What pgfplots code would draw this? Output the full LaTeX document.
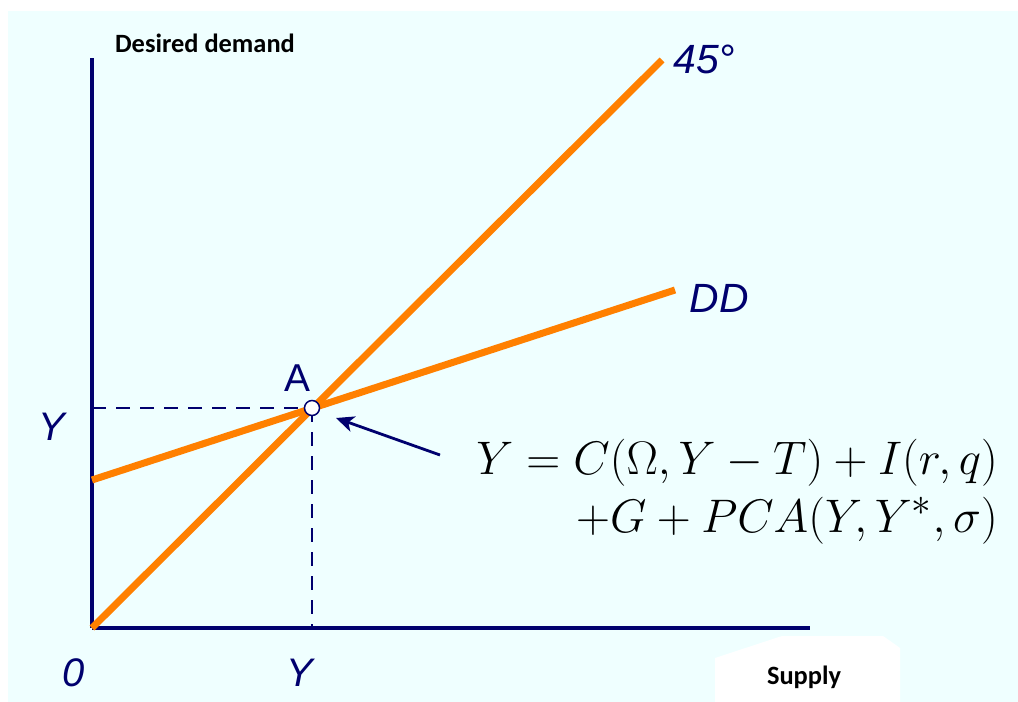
\documentclass[border=0pt]{standalone}
\usepackage{pgfplots}
\pgfplotsset{compat=1.18}
\usetikzlibrary{arrows.meta}
\usepackage{fontspec}
\setmainfont{Liberation Sans}
\newfontfamily\calib{Carlito}
\definecolor{navy}{RGB}{0,0,110}
\definecolor{ora}{RGB}{255,128,0}
\definecolor{bgc}{RGB}{239,255,255}
\begin{document}
\begin{tikzpicture}[x=1bp,y=1bp]
\useasboundingbox (0,0) rectangle (1018,-702);
\fill[white] (0,0) rectangle (1018,-702);
\fill[bgc] (8,-11) rectangle (1018,-702);
\fill[white] (715,-658) -- (782,-636) -- (883,-636) -- (893,-643) -- (900,-648) -- (900,-702) -- (715,-702) -- cycle;
\begin{axis}[
  at={(92,-628)}, anchor=origin,
  scale only axis, width=718bp, height=570bp,
  xmin=0, xmax=718, ymin=0, ymax=570,
  axis lines=left,
  axis line style={-, line width=4bp, navy},
  xtick=\empty, ytick=\empty,
  clip=false,
]
\addplot[navy, line width=2.6bp, dash pattern=on 14bp off 10bp] coordinates {(0,220) (220,220)};
\addplot[navy, line width=2.6bp, dash pattern=on 14bp off 10bp] coordinates {(220,220) (220,0)};
\addplot[ora, line width=7bp] coordinates {(0,0) (570,568)};
\addplot[ora, line width=7bp] coordinates {(0,148) (583,338)};
\addplot[only marks, mark=*, mark size=7.5bp, mark options={fill=white, draw=navy, line width=1.5bp}] coordinates {(220,220)};
\draw[navy, line width=2.8bp, -{Stealth[length=18bp,width=16bp,inset=5bp]}] (axis cs:348,173) -- (axis cs:244,210);
\end{axis}
\node[font=\calib\bfseries\fontsize{26.5}{30}\selectfont, anchor=base] at (205,-53) {Desired demand};
\node[font=\calib\bfseries\fontsize{26.5}{30}\selectfont, anchor=base] at (804,-684) {Supply};
\node[font=\itshape\fontsize{40}{46}\selectfont, text=navy, anchor=base] at (52,-440) {Y};
\node[font=\itshape\fontsize{40}{46}\selectfont, text=navy, anchor=base] at (300,-686) {Y};
\node[font=\itshape\fontsize{40}{46}\selectfont, text=navy, anchor=base] at (74,-686) {0};
\node[font=\fontsize{39}{45}\selectfont, text=navy, anchor=base] at (297,-391) {A};
\node[font=\itshape\fontsize{41}{47}\selectfont, text=navy, anchor=base west] at (670,-74) {45°};
\node[font=\itshape\fontsize{41}{47}\selectfont, text=navy, anchor=base west] at (686,-312) {DD};
\node[font=\fontsize{24.88}{31}\selectfont, anchor=base east, inner sep=0pt] at (998,-474) {\scalebox{1.9}{\begin{tabular}[t]{@{}r@{}}$Y = C(\Omega, Y - T) + I(r, q)$\\$+G + PCA(Y, Y^{*}, \sigma)$\end{tabular}}};
\end{tikzpicture}
\end{document}
